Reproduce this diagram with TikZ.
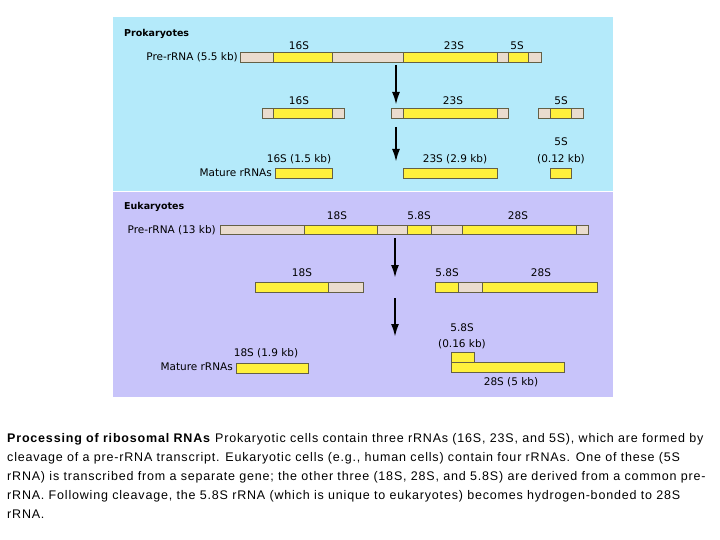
\documentclass[tikz,border=0pt]{standalone}
\usepackage{fontspec}
\setmainfont{Liberation Sans}
\newfontfamily\lblfont{DejaVu Sans}
\usetikzlibrary{arrows.meta}
\definecolor{prok}{RGB}{180,234,250}
\definecolor{euk}{RGB}{200,196,250}
\definecolor{spacer}{RGB}{234,220,206}
\definecolor{gene}{RGB}{255,241,60}
\definecolor{rim}{RGB}{100,96,70}
\tikzset{sp/.style={fill=spacer,draw=rim,line width=0.8pt},
  gn/.style={fill=gene,draw=rim,line width=0.8pt},
  lbl/.style={font=\lblfont\fontsize{10.5}{12}\selectfont,inner sep=0pt},
  head/.style={lbl,font=\lblfont\bfseries\fontsize{9.5}{12}\selectfont,anchor=west},
  proc/.style={line width=2.2pt,-{Latex[length=13pt,width=8pt]}},
  captxt/.style={font=\fontsize{12.5}{19}\selectfont\addfontfeature{LetterSpace=6.5},anchor=base west,inner sep=0pt}}

\begin{document}
\begin{tikzpicture}[x=1pt,y=-1pt]
\useasboundingbox (0,0) rectangle (720,540);
\fill[white] (0,0) rectangle (720,540);
\fill[prok] (113,17) rectangle (613,191);
\fill[euk] (113,192) rectangle (613,397);

% prokaryotes
\node[head] (prohead) at (124,34) {Prokaryotes};
\node[lbl,anchor=east] (propre) at (238,57) {Pre-rRNA (5.5 kb)};
\draw[sp] (240,52.5) rectangle (541,62);
\draw[gn] (273,52.5) rectangle (332,62);
\draw[gn] (403,52.5) rectangle (497,62);
\draw[gn] (508,52.5) rectangle (528,62);
\node[lbl] (p16a) at (299,46) {16S};
\node[lbl] (p23a) at (454,46) {23S};
\node[lbl] (p5a) at (517,46) {5S};

\draw[sp] (262,108) rectangle (344,118);
\draw[gn] (273,108) rectangle (332,118);
\draw[sp] (391,108) rectangle (508,118);
\draw[gn] (403,108) rectangle (497,118);
\draw[sp] (538,108) rectangle (583,118);
\draw[gn] (550,108) rectangle (571,118);
\node[lbl] (p16b) at (299,101) {16S};
\node[lbl] (p23b) at (453,101) {23S};
\node[lbl] (p5b) at (561,101) {5S};

\draw[gn] (275,168) rectangle (332,178);
\draw[gn] (403,168) rectangle (497,178);
\draw[gn] (550,168) rectangle (571,178);
\node[lbl] (p16c) at (299,159) {16S (1.5 kb)};
\node[lbl,anchor=east] (promat) at (272,173) {Mature rRNAs};
\node[lbl] (p23c) at (455,159) {23S (2.9 kb)};
\node[lbl] (p5c) at (561,142) {5S};
\node[lbl] (p5kb) at (561,159) {(0.12 kb)};

\coordinate (pa1) at (396,65);
\coordinate (pb1) at (396,105);
\coordinate (pa2) at (396,127);
\coordinate (pb2) at (396,162);
\draw[proc] (pa1) -- (pb1);
\draw[proc] (pa2) -- (pb2);

% eukaryotes
\node[head] (euhead) at (124,207) {Eukaryotes};
\node[lbl,anchor=east] (eupre) at (216,230) {Pre-rRNA (13 kb)};
\draw[sp] (220,225) rectangle (588,234);
\draw[gn] (304,225) rectangle (377,234);
\draw[gn] (407,225) rectangle (431,234);
\draw[gn] (462,225) rectangle (576,234);
\node[lbl] (e18a) at (337,216) {18S};
\node[lbl] (e58a) at (419,216) {5.8S};
\node[lbl] (e28a) at (518,216) {28S};

\draw[sp] (255,282) rectangle (363,292);
\draw[gn] (255,282) rectangle (328,292);
\draw[sp] (435,282) rectangle (597,292);
\draw[gn] (435,282) rectangle (458,292);
\draw[gn] (482,282) rectangle (597,292);
\node[lbl] (e18b) at (302,273) {18S};
\node[lbl] (e58b) at (447,273) {5.8S};
\node[lbl] (e28b) at (541,273) {28S};

\draw[gn] (236,363) rectangle (308,373);
\draw[gn] (451,352) rectangle (474,362);
\draw[gn] (451,362) rectangle (564,372);
\node[lbl] (e18c) at (266,353) {18S (1.9 kb)};
\node[lbl,anchor=east] (eumat) at (233,367) {Mature rRNAs};
\node[lbl] (e58c) at (462,328) {5.8S};
\node[lbl] (e58kb) at (462,344) {(0.16 kb)};
\node[lbl] (e28c) at (511,382) {28S (5 kb)};

\coordinate (ea1) at (395,238);
\coordinate (eb1) at (395,278);
\coordinate (ea2) at (395,298);
\coordinate (eb2) at (395,337);
\draw[proc] (ea1) -- (eb1);
\draw[proc] (ea2) -- (eb2);

% caption
\node[captxt] (cap1) at (7,442.5) {\textbf{Processing of ribosomal RNAs} Prokaryotic cells contain three rRNAs (16S, 23S, and 5S), which are formed by};
\node[captxt] (cap2) at (7,461.5) {cleavage of a pre-rRNA transcript. Eukaryotic cells (e.g., human cells) contain four rRNAs. One of these (5S};
\node[captxt] (cap3) at (7,480.5) {rRNA) is transcribed from a separate gene; the other three (18S, 28S, and 5.8S) are derived from a common pre-};
\node[captxt] (cap4) at (7,499.5) {rRNA. Following cleavage, the 5.8S rRNA (which is unique to eukaryotes) becomes hydrogen-bonded to 28S};
\node[captxt] (cap5) at (7,518) {rRNA.};
\end{tikzpicture}
\end{document}
